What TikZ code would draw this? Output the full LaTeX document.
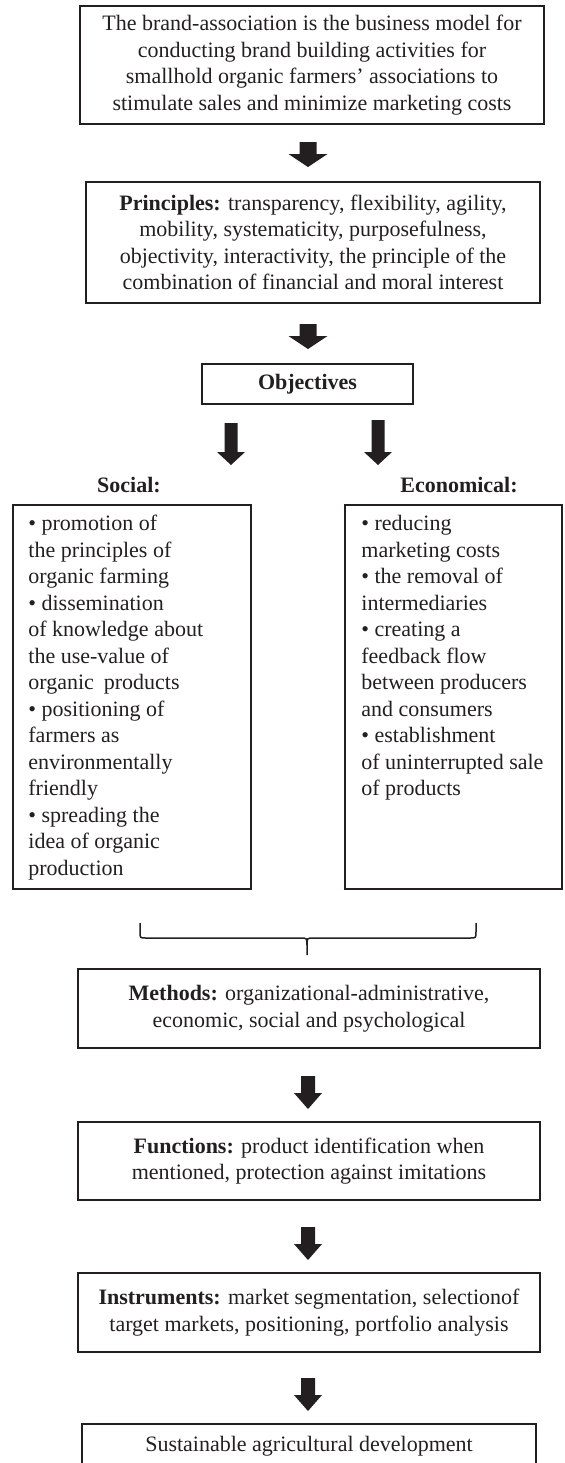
\documentclass[tikz,border=0pt]{standalone}
\usepackage{fontspec}
\setmainfont{Liberation Serif}
\usetikzlibrary{calc}
\definecolor{ink}{RGB}{35,31,32}
\begin{document}
\begin{tikzpicture}[x=0.5pt,y=-0.5pt,
  every node/.style={font=\fontsize{11pt}{13.25pt}\selectfont, text=ink},
  framebox/.style={draw=ink, line width=1pt, inner sep=0pt, align=center},
  listtext/.style={inner sep=0pt, align=left, anchor=north west},
  headtext/.style={inner sep=0pt, font=\fontsize{11pt}{13.25pt}\selectfont\bfseries},
  % block arrow: shaft half-width, head half-width, head length, total length
  pics/blockarrow/.style n args={4}{code={
    \fill[ink] (-#1,0) -- (#1,0) -- (#1,#4-#3) -- (#2,#4-#3) -- (0,#4)
      -- (-#2,#4-#3) -- (-#1,#4-#3) -- cycle;}},
]
\useasboundingbox (0,0) rectangle (564,1463);
\clip (0,0) rectangle (564,1463);

% main column
\node[framebox, minimum width=232pt, minimum height=59pt] (brand) at (312,65)
  {The brand-association is the business model for\\
   conducting brand building activities for\\
   smallhold organic farmers’ associations to\\
   stimulate sales and minimize marketing costs};

\node[framebox, minimum width=227pt, minimum height=60.5pt] (principles) at (313,242.5)
  {\textbf{Principles:} transparency, flexibility, agility,\\
   mobility, systematicity, purposefulness,\\
   objectivity, interactivity, the principle of the\\
   combination of financial and moral interest};

\node[framebox, minimum width=105.5pt, minimum height=20pt] (objectives) at (307.5,384)
  {\textbf{Objectives}};

% two groups of objectives
\node[headtext] (sociallabel) at (129,485) {Social:};
\node[headtext] (econlabel) at (459,485) {Economical:};

\node[framebox, minimum width=119pt, minimum height=192pt] (socialbox) at (132,697) {};
\node[listtext] (socialtext) at (28,515)
  {• promotion of\\
   the principles of\\
   organic farming\\
   • dissemination\\
   of knowledge about\\
   the use-value of\\
   organic\hspace{0.2em} products\\
   • positioning of\\
   farmers as\\
   environmentally\\
   friendly\\
   • spreading the\\
   idea of organic\\
   production};

\node[framebox, minimum width=108.5pt, minimum height=192pt] (econbox) at (453.5,697) {};
\node[listtext] (econtext) at (361,515)
  {• reducing\\
   marketing costs\\
   • the removal of\\
   intermediaries\\
   • creating a\\
   feedback flow\\
   between producers\\
   and consumers\\
   • establishment\\
   of uninterrupted sale\\
   of products};

% brace joining both groups
\draw[ink, line width=0.75pt] (140,923) -- (140,932) .. controls (140,938) .. (146,938)
  -- (300,938) .. controls (307,938) .. (307,945) -- (307,955);
\draw[ink, line width=0.75pt] (476,923) -- (476,932) .. controls (476,938) .. (470,938)
  -- (314,938) .. controls (307,938) .. (307,945);

\node[framebox, minimum width=231pt, minimum height=39.5pt] (methods) at (309,1008.5)
  {\textbf{Methods:} organizational-administrative,\\
   economic, social and psychological};

\node[framebox, minimum width=231pt, minimum height=39pt] (functions) at (309,1161)
  {\textbf{Functions:} product identification when\\
   mentioned, protection against imitations};

\node[framebox, minimum width=231pt, minimum height=39.5pt] (instruments) at (309,1312.5)
  {\textbf{Instruments:} market segmentation, selectionof\\
   target markets, positioning, portfolio analysis};

\node[framebox, minimum width=227pt, minimum height=22pt] (sustain) at (309,1446)
  {Sustainable agricultural development};

% block arrows between the boxes
\pic at ($(brand.south)+(-4,17)$) {blockarrow={8.5}{19.5}{13}{25}};
\pic at ($(principles.south)+(-5,20)$) {blockarrow={8.5}{19.5}{13}{25}};
\pic at ($(objectives.south)+(-76.5,18)$) {blockarrow={6.5}{14}{13}{42}};
\pic at ($(objectives.south)+(70.5,15)$) {blockarrow={6.5}{14}{13}{45}};
\pic at ($(methods.south)+(-1,27)$) {blockarrow={7}{14}{16}{33}};
\pic at ($(functions.south)+(-1,26)$) {blockarrow={7}{14}{16}{33}};
\pic at ($(instruments.south)+(-1,25)$) {blockarrow={7}{14}{16}{33}};
\end{tikzpicture}
\end{document}
